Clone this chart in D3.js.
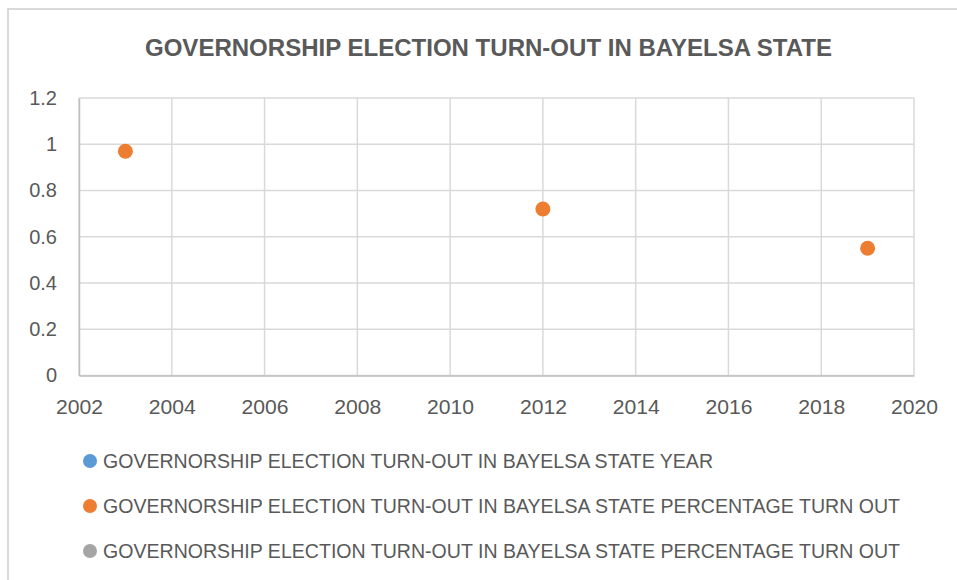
<!DOCTYPE html>
<html>
<head>
<meta charset="utf-8">
<script src="https://cdn.jsdelivr.net/npm/d3@7"></script>
<style>
  html, body { margin: 0; padding: 0; background: #ffffff; }
  svg { display: block; }
  text { font-family: "Liberation Sans", Arial, sans-serif; fill: #595959; }
</style>
</head>
<body>
<svg id="chart" width="957" height="580"></svg>
<script>
// Election years and turnout (fraction of registered voters)
const years = [2003, 2012, 2019];
const turnout = [0.97, 0.72, 0.55];

const chartTitle = "GOVERNORSHIP ELECTION TURN-OUT IN BAYELSA STATE";
const seriesNames = [
  "GOVERNORSHIP ELECTION TURN-OUT IN BAYELSA STATE YEAR",
  "GOVERNORSHIP ELECTION TURN-OUT IN BAYELSA STATE PERCENTAGE TURN OUT",
  "GOVERNORSHIP ELECTION TURN-OUT IN BAYELSA STATE PERCENTAGE TURN OUT"
];
const seriesColors = ["#5b9bd5", "#ed7d31", "#a5a5a5"];

const xTicks = [2002, 2004, 2006, 2008, 2010, 2012, 2014, 2016, 2018, 2020];
const yTicks = [0, 0.2, 0.4, 0.6, 0.8, 1, 1.2];

const svg = d3.select("#chart");

// outer chart frame
svg.append("rect")
  .attr("x", 8).attr("y", 9)
  .attr("width", 980).attr("height", 600)
  .attr("fill", "#fff")
  .attr("stroke", "#d9d9d9").attr("stroke-width", 2);

const plot = { left: 79, right: 914, top: 98, bottom: 375.5 };

const x = d3.scaleLinear().domain([2002, 2020]).range([plot.left, plot.right]);
const y = d3.scaleLinear().domain([0, 1.2]).range([plot.bottom, plot.top]);

// title
svg.append("text")
  .attr("x", 488.5).attr("y", 56)
  .attr("text-anchor", "middle")
  .attr("font-size", 23).attr("font-weight", "bold")
  .attr("textLength", 687).attr("lengthAdjust", "spacingAndGlyphs")
  .text(chartTitle);

// gridlines
const grid = svg.append("g");
grid.selectAll("line.h").data(yTicks).join("line")
  .attr("class", "h")
  .attr("x1", plot.left).attr("x2", plot.right)
  .attr("y1", d => y(d)).attr("y2", d => y(d))
  .attr("stroke", "#d9d9d9").attr("stroke-width", 1.5);
grid.selectAll("line.v").data(xTicks).join("line")
  .attr("class", "v")
  .attr("y1", plot.top).attr("y2", plot.bottom)
  .attr("x1", d => x(d)).attr("x2", d => x(d))
  .attr("stroke", "#d9d9d9").attr("stroke-width", 1.5);

// axes
const yAxis = svg.append("g")
  .attr("transform", `translate(${plot.left},0)`)
  .call(d3.axisLeft(y).tickValues(yTicks).tickSize(0).tickPadding(22).tickFormat(d3.format("~g")));
const xAxis = svg.append("g")
  .attr("transform", `translate(0,${plot.bottom})`)
  .call(d3.axisBottom(x).tickValues(xTicks).tickSize(0).tickPadding(24).tickFormat(d3.format("d")));

[yAxis, xAxis].forEach(a => {
  a.select(".domain").attr("stroke", "#bfbfbf").attr("stroke-width", 1.5);
  a.selectAll("text").attr("font-size", 20).attr("fill", "#595959")
    .attr("font-family", "'Liberation Sans', Arial, sans-serif");
});
xAxis.selectAll("text")
  .attr("textLength", 47).attr("lengthAdjust", "spacingAndGlyphs");

// plotted points
svg.append("clipPath").attr("id", "plotClip")
  .append("rect")
  .attr("x", plot.left - 10).attr("y", plot.top - 10)
  .attr("width", plot.right - plot.left + 20).attr("height", plot.bottom - plot.top + 20);

const points = svg.append("g").attr("clip-path", "url(#plotClip)");
const pts = years.map((yr, i) => ({ yr, v: turnout[i] }));
points.selectAll("circle").data(pts).join("circle")
  .attr("cx", d => x(d.yr))
  .attr("cy", d => y(d.v))
  .attr("r", 7.5)
  .attr("fill", seriesColors[1]);

// legend
const legendY = [461, 506, 551];
const legendWidths = [610, 797, 797];
const legend = svg.append("g");
seriesNames.forEach((name, i) => {
  legend.append("circle")
    .attr("cx", 90).attr("cy", legendY[i]).attr("r", 7)
    .attr("fill", seriesColors[i]);
  legend.append("text")
    .attr("x", 103).attr("y", legendY[i]).attr("dy", "0.36em")
    .attr("font-size", 20)
    .attr("textLength", legendWidths[i]).attr("lengthAdjust", "spacingAndGlyphs")
    .text(name);
});
</script>
</body>
</html>
